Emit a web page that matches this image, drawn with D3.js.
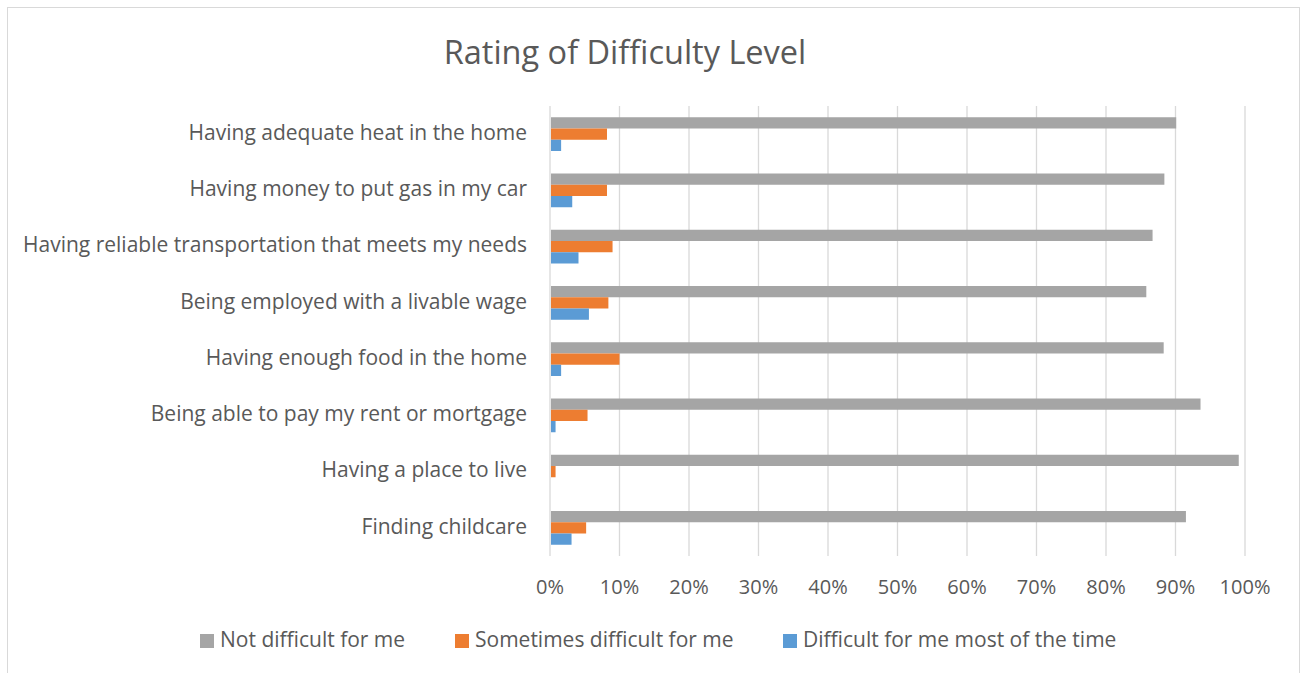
<!DOCTYPE html>
<html>
<head>
<meta charset="utf-8">
<script src="https://cdn.jsdelivr.net/npm/d3@7"></script>
<style>
  body { margin: 0; background: #fff; }
  svg { display: block; font-family: "Open Sans", sans-serif; }
</style>
</head>
<body>
<svg id="chart" width="1302" height="673"></svg>
<script>
// --- DATA ---
const categories = [
    "Having adequate heat in the home",
    "Having money to put gas in my car",
    "Having reliable transportation that meets my needs",
    "Being employed with a livable wage",
    "Having enough food in the home",
    "Being able to pay my rent or mortgage",
    "Having a place to live",
    "Finding childcare"
];
const seriesNames = ["Not difficult for me", "Sometimes difficult for me", "Difficult for me most of the time"];
const notDifficult = [90.1, 88.4, 86.7, 85.8, 88.3, 93.6, 99.1, 91.5];
const sometimesDifficult = [8.2, 8.2, 9.0, 8.4, 10.0, 5.4, 0.8, 5.2];
const mostlyDifficult = [1.6, 3.2, 4.1, 5.6, 1.6, 0.8, 0, 3.1];
const xTicks = [0, 10, 20, 30, 40, 50, 60, 70, 80, 90, 100];
const colors = ["#a5a5a5", "#ed7d31", "#5b9bd5"];

const seriesValues = [notDifficult, sometimesDifficult, mostlyDifficult];
const rows = categories.map((c, i) => ({
    category: c,
    values: seriesValues.map((s, k) => ({ key: seriesNames[k], value: s[i], k: k }))
}));

// --- SETUP ---
const svg = d3.select("#chart");
const plot = { left: 550, right: 1245, top: 106, bottom: 556 };

// outer border
svg.append("rect")
    .attr("x", 7.5).attr("y", 7.5)
    .attr("width", 1292).attr("height", 680)
    .attr("fill", "#fff")
    .attr("stroke", "#d9d9d9");

const xScale = d3.scaleLinear().domain([0, 100]).range([plot.left, plot.right]);
const yScale = d3.scaleBand().domain(categories).range([plot.top, plot.bottom])
    .paddingInner(0.4).paddingOuter(0.2);
const ySub = d3.scaleBand().domain([0, 1, 2]).range([0, yScale.bandwidth()]);

// title
svg.append("text")
    .attr("x", 625).attr("y", 55)
    .attr("text-anchor", "middle")
    .attr("dominant-baseline", "middle")
    .attr("font-size", 32.5)
    .attr("fill", "#595959")
    .text("Rating of Difficulty Level");

// gridlines
svg.append("g").selectAll("line")
    .data(xTicks)
    .join("line")
    .attr("x1", d => xScale(d)).attr("x2", d => xScale(d))
    .attr("y1", plot.top).attr("y2", plot.bottom)
    .attr("stroke", "#d9d9d9")
    .attr("stroke-width", 1.3);

// x tick labels
svg.append("g").selectAll("text")
    .data(xTicks)
    .join("text")
    .attr("x", d => xScale(d))
    .attr("y", 589)
    .attr("text-anchor", "middle")
    .attr("dominant-baseline", "middle")
    .attr("font-size", 20)
    .attr("fill", "#595959")
    .text(d => d + "%");

// category labels
svg.append("g").selectAll("text")
    .data(categories)
    .join("text")
    .attr("x", 527)
    .attr("y", d => yScale(d) + yScale.bandwidth() / 2)
    .attr("text-anchor", "end")
    .attr("dominant-baseline", "middle")
    .attr("font-size", 21)
    .attr("fill", "#595959")
    .text(d => d);

// bars
const groups = svg.append("g").selectAll("g")
    .data(rows)
    .join("g")
    .attr("transform", d => `translate(0,${yScale(d.category)})`);

groups.selectAll("rect")
    .data(d => d.values)
    .join("rect")
    .attr("x", xScale(0) + 1)
    .attr("y", d => ySub(d.k))
    .attr("width", d => Math.max(0, xScale(d.value) - xScale(0) - 1))
    .attr("height", ySub.bandwidth())
    .attr("fill", d => colors[d.k]);

// legend
const legendX = [200, 455, 783];
const legend = svg.append("g").selectAll("g")
    .data(seriesNames)
    .join("g")
    .attr("transform", (d, i) => `translate(${legendX[i]},641)`);

legend.append("rect")
    .attr("x", 0).attr("y", -7)
    .attr("width", 14).attr("height", 14)
    .attr("fill", (d, i) => colors[i]);

legend.append("text")
    .attr("x", 20)
    .attr("y", 0)
    .attr("dominant-baseline", "middle")
    .attr("font-size", 21)
    .attr("fill", "#595959")
    .text(d => d);
</script>
</body>
</html>
